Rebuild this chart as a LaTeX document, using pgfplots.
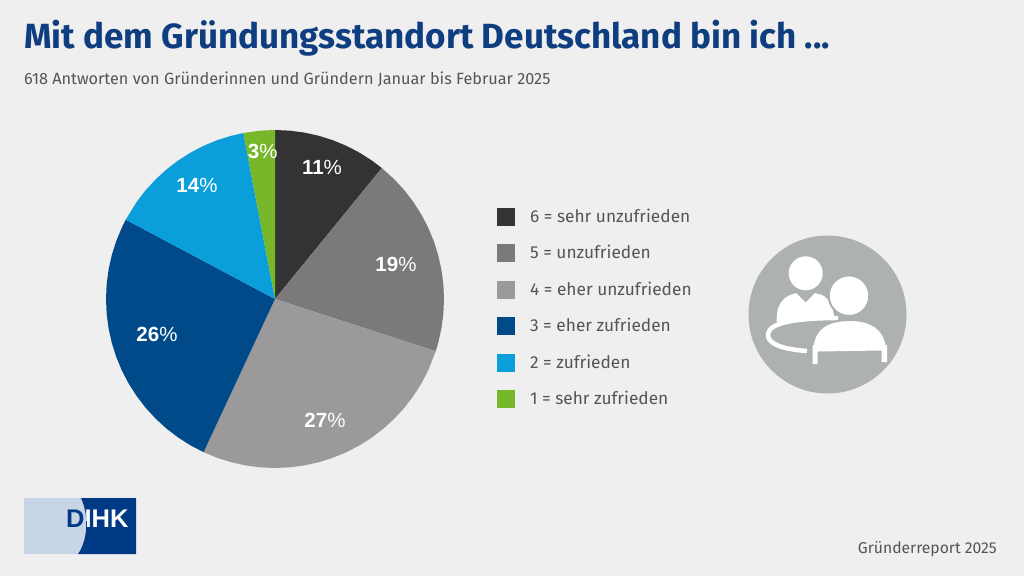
\documentclass[border=0pt]{standalone}
\usepackage{fontspec}
\setmainfont{Fira Sans}
\newfontfamily\logofont{Liberation Sans}
\usepackage{pgfplots}
\pgfplotsset{compat=1.18}
\usepgfplotslibrary{polar}
\definecolor{bg}{HTML}{EFEFEF}
\definecolor{sA}{HTML}{333333}
\definecolor{sB}{HTML}{7B7979}
\definecolor{sC}{HTML}{9B9999}
\definecolor{sD}{HTML}{004A8A}
\definecolor{sE}{HTML}{0A9FDA}
\definecolor{sF}{HTML}{76B82A}
\definecolor{ttl}{HTML}{0F3E80}
\definecolor{sub}{HTML}{555555}
\definecolor{icon}{HTML}{AEB1B2}
\definecolor{logoL}{HTML}{C8D5E6}
\definecolor{logoD}{HTML}{003A85}
\begin{document}
\begin{tikzpicture}
\path[use as bounding box] (0,0) rectangle (1024pt,-576pt);
\fill[bg] (0,0) rectangle (1024pt,-576pt);
\begin{scope}[x=1pt,y=-1pt]
\node[anchor=base west,inner sep=0,text=ttl,font=\fontsize{35}{38}\selectfont\bfseries] at (24,48) {Mit dem Gründungsstandort Deutschland bin ich ...};
\node[anchor=base west,inner sep=0,text=sub,font=\fontsize{16.25}{18}\selectfont] at (24,84) {618 Antworten von Gründerinnen und Gründern Januar bis Februar 2025};
\node[anchor=base east,inner sep=0,text=sub,font=\fontsize{15.7}{17}\selectfont] at (997,553) {Gründerreport 2025};
% icon
\fill[icon] (827.5,314.5) circle (79);
\fill[white] (805.7,273.3) circle (17);
\fill[white] (776.7,318) .. controls (777,305) and (782,299) .. (790,295) -- (796,293) -- (805.7,302.5) -- (815,293) -- (822,295) .. controls (830,299) and (833,308) .. (834,316) .. controls (815,317) and (795,319) .. (776.7,322) -- cycle;
\draw[white,line width=4.5] (807,351) .. controls (780,349) and (767,343) .. (768,334) .. controls (769,322) and (800,318) .. (838,318);
\fill[white,draw=icon,line width=2] (849,295.7) circle (20.3);
\fill[white,draw=icon,line width=2] (812.7,347) .. controls (814,330) and (825,320) .. (850,320) .. controls (875,320) and (885,332) .. (887,347) -- cycle;
\fill[white] (812.5,345) -- (887,345) -- (887,362) -- (881.5,362) -- (881.5,350.5) -- (817.5,351.5) -- (817.5,364) -- (812.5,364) -- cycle;
% logo
\fill[logoL] (24,498) rectangle (136,554);
\fill[logoD] (81,498) .. controls (89,515) and (88,540) .. (78,554) -- (136,554) -- (136,498) -- cycle;
\node[anchor=base west,inner sep=0,text=logoD,font=\logofont\fontsize{25.5}{28}\selectfont\bfseries] at (66,527) {DIHK};
\begin{scope}
\clip (81,498) .. controls (89,515) and (88,540) .. (78,554) -- (136,554) -- (136,498) -- cycle;
\node[anchor=base west,inner sep=0,text=white,font=\logofont\fontsize{25.5}{28}\selectfont\bfseries] at (66,527) {DIHK};
\end{scope}
\end{scope}
\begin{polaraxis}[
  at={(275pt,-299pt)},anchor=center,
  scale only axis,width=338pt,height=338pt,
  ymin=0,ymax=1,xmin=0,xmax=360,
  hide axis,clip=false,
  legend cell align=left,
  legend image code/.code={\fill[#1] (0pt,-9pt) rectangle (18pt,9pt);},
  legend style={at={(1.1568,0.769)},anchor=north west,draw=none,fill=none,inner sep=0pt,outer sep=0pt,
    row sep=18.4pt,/tikz/column 1/.style={column sep=15pt},
    nodes={inner sep=0pt,text=sub,font=\fontsize{17.3}{19}\selectfont,text height=14pt,text depth=3pt,anchor=west}},
]
\addplot[fill=sA,draw=none] coordinates {(0,0) (90,1) (85,1) (80,1) (75,1) (70,1) (65,1) (60,1) (55,1) (50.8,1)} -- cycle;
\addplot[fill=sB,draw=none] coordinates {(0,0) (50.8,1) (45,1) (40,1) (35,1) (30,1) (25,1) (20,1) (15,1) (10,1) (5,1) (0,1) (-5,1) (-10,1) (-15,1) (-18,1)} -- cycle;
\addplot[fill=sC,draw=none] coordinates {(0,0) (-18,1) (-25,1) (-30,1) (-35,1) (-40,1) (-45,1) (-50,1) (-55,1) (-60,1) (-65,1) (-70,1) (-75,1) (-80,1) (-85,1) (-90,1) (-95,1) (-100,1) (-105,1) (-110,1) (-115,1)} -- cycle;
\addplot[fill=sD,draw=none] coordinates {(0,0) (-115,1) (-120,1) (-125,1) (-130,1) (-135,1) (-140,1) (-145,1) (-150,1) (-155,1) (-160,1) (-165,1) (-170,1) (-175,1) (-180,1) (-185,1) (-190,1) (-195,1) (-200,1) (-205,1) (-208,1)} -- cycle;
\addplot[fill=sE,draw=none] coordinates {(0,0) (-208,1) (-215,1) (-220,1) (-225,1) (-230,1) (-235,1) (-240,1) (-245,1) (-250,1) (-255,1) (-259.2,1)} -- cycle;
\addplot[fill=sF,draw=none] coordinates {(0,0) (-259.2,1) (-265,1) (-270,1)} -- cycle;
\legend{6 = sehr unzufrieden,5 = unzufrieden,4 = eher unzufrieden,3 = eher zufrieden,2 = zufrieden,1 = sehr zufrieden}
\end{polaraxis}
\begin{scope}[x=1pt,y=-1pt,every node/.style={inner sep=0,text=white,font=\logofont\fontsize{20.5}{22}\selectfont}]
\node at (322,167.3) {\textbf{11}\%};
\node at (396,264) {\textbf{19}\%};
\node at (325,420) {\textbf{27}\%};
\node at (157,334) {\textbf{26}\%};
\node at (197,185) {\textbf{14}\%};
\node at (262.7,151) {\textbf{3}\%};
\end{scope}
\end{tikzpicture}
\end{document}
